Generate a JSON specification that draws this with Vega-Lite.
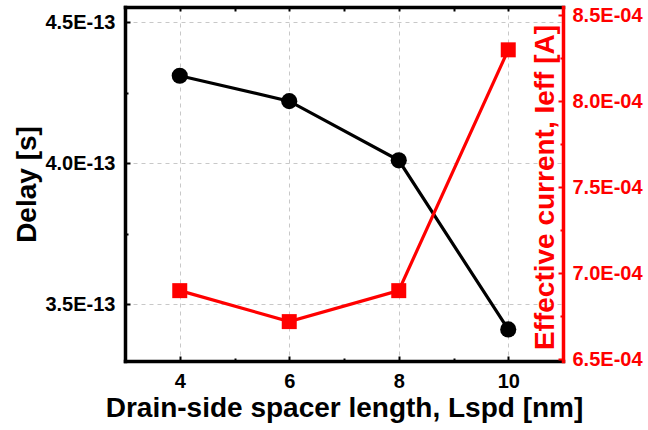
{
  "$schema": "https://vega.github.io/schema/vega-lite/v6.json",
  "width": 438,
  "height": 354,
  "autosize": {"type": "none"},
  "padding": {"left": 125, "top": 7, "right": 85, "bottom": 69},
  "background": "white",
  "config": {
    "font": "Liberation Sans",
    "view": {"stroke": null},
    "axis": {
      "labelFont": "Liberation Sans",
      "labelFontWeight": "bold",
      "labelFontSize": 20,
      "titleFont": "Liberation Sans",
      "titleFontWeight": "bold",
      "titleFontSize": 28,
      "domainWidth": 3.5,
      "domainCap": "square",
      "tickWidth": 2,
      "gridColor": "#c8c8c8",
      "gridDash": [4, 4],
      "gridWidth": 1
    }
  },
  "data": {
    "values": [
      {"L": 4, "delay": 4.31e-13, "ieff": 6.90e-4},
      {"L": 6, "delay": 4.22e-13, "ieff": 6.72e-4},
      {"L": 8, "delay": 4.01e-13, "ieff": 6.90e-4},
      {"L": 10, "delay": 3.41e-13, "ieff": 8.30e-4}
    ]
  },
  "layer": [
    {
      "encoding": {
        "x": {
          "field": "L",
          "type": "quantitative",
          "scale": {"domain": [3, 11], "nice": false, "zero": false},
          "axis": {
            "orient": "bottom",
            "title": "Drain-side spacer length, Lspd [nm]",
            "titleColor": "black",
            "titlePadding": 3,
            "values": [4, 5, 6, 7, 8, 9, 10],
            "labelExpr": "datum.value % 2 == 0 ? datum.label : ''",
            "labelColor": "black",
            "labelPadding": 15,
            "domainColor": "black",
            "tickColor": "black",
            "tickSize": {"condition": {"test": "datum.value % 2 == 1", "value": -3}, "value": -5},
            "grid": true,
            "gridOpacity": {"condition": {"test": "datum.value % 2 == 1", "value": 0}, "value": 1}
          }
        },
        "y": {
          "field": "delay",
          "type": "quantitative",
          "scale": {"domain": [3.298e-13, 4.554e-13], "nice": false, "zero": false},
          "axis": {
            "orient": "left",
            "title": "Delay [s]",
            "titleColor": "black",
            "titlePadding": 3,
            "values": [3.5e-13, 3.75e-13, 4.0e-13, 4.25e-13, 4.5e-13],
            "labelExpr": "round(datum.value*4e13) % 2 == 0 ? format(datum.value*1e13, '.1f') + 'E-13' : ''",
            "labelColor": "black",
            "labelPadding": 15,
            "domainColor": "black",
            "tickColor": "black",
            "tickSize": {"condition": {"test": "round(datum.value*4e13) % 2 == 1", "value": -3}, "value": -5},
            "grid": true,
            "gridOpacity": {"condition": {"test": "round(datum.value*4e13) % 2 == 1", "value": 0}, "value": 1}
          }
        }
      },
      "layer": [
        {"mark": {"type": "line", "color": "black", "strokeWidth": 3.2}},
        {"mark": {"type": "point", "shape": "circle", "filled": true, "color": "black", "size": 260, "opacity": 1}}
      ]
    },
    {
      "encoding": {
        "x": {
          "field": "L",
          "type": "quantitative",
          "scale": {"domain": [3, 11], "nice": false, "zero": false},
          "axis": {
            "orient": "top",
            "title": null,
            "labels": false,
            "values": [4, 5, 6, 7, 8, 9, 10],
            "domainColor": "black",
            "tickColor": "black",
            "tickSize": -4,
            "grid": false
          }
        },
        "y": {
          "field": "ieff",
          "type": "quantitative",
          "scale": {"domain": [6.491e-4, 8.549e-4], "nice": false, "zero": false},
          "axis": {
            "orient": "right",
            "title": "Effective current, Ieff [A]",
            "titleColor": "#ff0000",
            "titleAngle": 270,
            "titleX": -10,
            "titleY": 180,
            "titleAlign": "center",
            "titleBaseline": "alphabetic",
            "values": [6.5e-4, 6.75e-4, 7.0e-4, 7.25e-4, 7.5e-4, 7.75e-4, 8.0e-4, 8.25e-4, 8.5e-4],
            "labelExpr": "round(datum.value*4e4) % 2 == 0 ? format(datum.value*1e4, '.1f') + 'E-04' : ''",
            "labelColor": "#ff0000",
            "labelPadding": 14,
            "domainColor": "#ff0000",
            "tickColor": "#ff0000",
            "tickSize": {"condition": {"test": "round(datum.value*4e4) % 2 == 1", "value": -3}, "value": -5},
            "grid": false
          }
        }
      },
      "layer": [
        {"mark": {"type": "line", "color": "#ff0000", "strokeWidth": 3.2}},
        {"mark": {"type": "point", "shape": "square", "filled": true, "color": "#ff0000", "size": 225, "opacity": 1}}
      ]
    }
  ],
  "resolve": {"scale": {"y": "independent"}}
}
